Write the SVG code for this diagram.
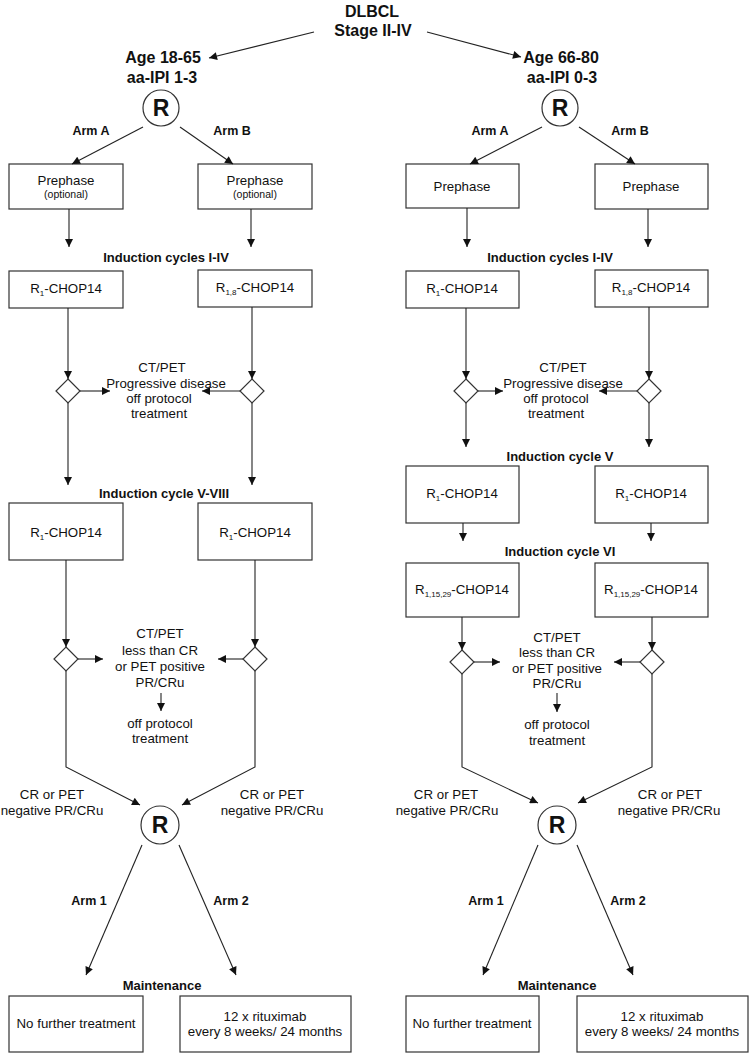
<svg xmlns="http://www.w3.org/2000/svg" width="749" height="1053" viewBox="0 0 749 1053">
<defs>
<marker id="ah" viewBox="0 0 10 10" refX="10" refY="5" markerWidth="9" markerHeight="8" markerUnits="userSpaceOnUse" orient="auto">
<path d="M0,0 L10,5 L0,10 z" fill="#111"/>
</marker>
</defs>
<style>
text{font-family:"Liberation Sans",Arial,sans-serif;fill:#111;text-anchor:middle}
.t{font-size:13.3px}
.s{font-size:10.5px}
.h{font-size:13px;font-weight:bold}
.a{font-size:12.5px;font-weight:bold}
.big{font-size:16px;font-weight:bold}
.rr{font-size:23px;font-weight:bold}
.sub{font-size:8px}
.n{fill:#fff;stroke:#333;stroke-width:1.2}
.c line,.c polyline{stroke:#222;stroke-width:1.1;fill:none}
.ar{marker-end:url(#ah)}
</style>
<rect width="749" height="1053" fill="#fff"/>

<g id="title"><text class="big" x="372" y="17">DLBCL</text><text class="big" x="373" y="36">Stage II-IV</text></g>
<g id="ageL"><text class="big" x="163" y="63">Age 18-65</text><text class="big" x="162" y="83">aa-IPI 1-3</text></g>
<g id="ageR"><text class="big" x="561" y="63">Age 66-80</text><text class="big" x="562" y="83">aa-IPI 0-3</text></g>

<g id="rL1"><circle class="n" cx="161" cy="108" r="18"/><text class="rr" x="161" y="116">R</text></g>
<g id="rR1"><circle class="n" cx="560" cy="108" r="18"/><text class="rr" x="560" y="116">R</text></g>

<g id="armlabels">
<text class="a" x="91" y="135">Arm A</text><text class="a" x="232" y="135">Arm B</text>
<text class="a" x="490" y="135">Arm A</text><text class="a" x="630" y="135">Arm B</text>
</g>

<g id="preLA"><rect class="n" x="9" y="164" width="114" height="45"/><text class="t" x="66" y="185">Prephase</text><text class="s" x="66" y="198">(optional)</text></g>
<g id="preLB"><rect class="n" x="198" y="164" width="114" height="45"/><text class="t" x="255" y="185">Prephase</text><text class="s" x="255" y="198">(optional)</text></g>
<g id="preRA"><rect class="n" x="406" y="164" width="113" height="44"/><text class="t" x="462" y="191">Prephase</text></g>
<g id="preRB"><rect class="n" x="595" y="164" width="113" height="45"/><text class="t" x="651" y="191">Prephase</text></g>

<g id="hdr1"><text class="h" x="166" y="262">Induction cycles I-IV</text><text class="h" x="550" y="262">Induction cycles I-IV</text></g>

<g id="iLA"><rect class="n" x="9" y="271" width="114" height="37"/><text class="t" x="66" y="293">R<tspan class="sub" dy="3">1</tspan><tspan dy="-3">-CHOP14</tspan></text></g>
<g id="iLB"><rect class="n" x="198" y="270" width="114" height="37"/><text class="t" x="255" y="292">R<tspan class="sub" dy="3">1,8</tspan><tspan dy="-3">-CHOP14</tspan></text></g>
<g id="iRA"><rect class="n" x="406" y="271" width="113" height="37"/><text class="t" x="462" y="293">R<tspan class="sub" dy="3">1</tspan><tspan dy="-3">-CHOP14</tspan></text></g>
<g id="iRB"><rect class="n" x="595" y="270" width="113" height="37"/><text class="t" x="651" y="292">R<tspan class="sub" dy="3">1,8</tspan><tspan dy="-3">-CHOP14</tspan></text></g>

<g id="dL1a"><polygon class="n" points="68,379 80,391 68,403 56,391"/></g>
<g id="dL1b"><polygon class="n" points="252,379 264,391 252,403 240,391"/></g>
<g id="dR1a"><polygon class="n" points="466,379 478,391 466,403 454,391"/></g>
<g id="dR1b"><polygon class="n" points="649,379 661,391 649,403 637,391"/></g>

<g id="pdL"><text class="t" x="162" y="372">CT/PET</text><text class="t" x="166" y="388">Progressive disease</text><text class="t" x="159" y="403">off protocol</text><text class="t" x="159" y="418">treatment</text></g>
<g id="pdR"><text class="t" x="563" y="372">CT/PET</text><text class="t" x="563" y="388">Progressive disease</text><text class="t" x="556" y="403">off protocol</text><text class="t" x="556" y="418">treatment</text></g>

<g id="hdr2"><text class="h" x="164" y="498">Induction cycle V-VIII</text><text class="h" x="560" y="461">Induction cycle V</text><text class="h" x="560" y="556">Induction cycle VI</text></g>

<g id="vLA"><rect class="n" x="9" y="503" width="114" height="57"/><text class="t" x="66" y="537">R<tspan class="sub" dy="3">1</tspan><tspan dy="-3">-CHOP14</tspan></text></g>
<g id="vLB"><rect class="n" x="198" y="503" width="114" height="57"/><text class="t" x="255" y="537">R<tspan class="sub" dy="3">1</tspan><tspan dy="-3">-CHOP14</tspan></text></g>
<g id="vRA"><rect class="n" x="406" y="466" width="113" height="57"/><text class="t" x="462" y="498">R<tspan class="sub" dy="3">1</tspan><tspan dy="-3">-CHOP14</tspan></text></g>
<g id="vRB"><rect class="n" x="595" y="466" width="113" height="57"/><text class="t" x="651" y="498">R<tspan class="sub" dy="3">1</tspan><tspan dy="-3">-CHOP14</tspan></text></g>
<g id="viRA"><rect class="n" x="406" y="563" width="113" height="54"/><text class="t" x="462" y="594">R<tspan class="sub" dy="3">1,15,29</tspan><tspan dy="-3">-CHOP14</tspan></text></g>
<g id="viRB"><rect class="n" x="595" y="563" width="113" height="54"/><text class="t" x="651" y="594">R<tspan class="sub" dy="3">1,15,29</tspan><tspan dy="-3">-CHOP14</tspan></text></g>

<g id="dL2a"><polygon class="n" points="66,647 78,659 66,671 54,659"/></g>
<g id="dL2b"><polygon class="n" points="255,647 267,659 255,671 243,659"/></g>
<g id="dR2a"><polygon class="n" points="462,650 474,662 462,674 450,662"/></g>
<g id="dR2b"><polygon class="n" points="652,650 664,662 652,674 640,662"/></g>

<g id="lcL"><text class="t" x="160" y="638">CT/PET</text><text class="t" x="160" y="655">less than CR</text><text class="t" x="160" y="671">or PET positive</text><text class="t" x="160" y="687">PR/CRu</text><text class="t" x="160" y="728">off protocol</text><text class="t" x="160" y="743">treatment</text></g>
<g id="lcR"><text class="t" x="557" y="642">CT/PET</text><text class="t" x="557" y="657">less than CR</text><text class="t" x="557" y="673">or PET positive</text><text class="t" x="557" y="688">PR/CRu</text><text class="t" x="557" y="729">off protocol</text><text class="t" x="557" y="745">treatment</text></g>

<g id="crL"><text class="t" x="52" y="799">CR or PET</text><text class="t" x="52" y="815">negative PR/CRu</text><text class="t" x="272" y="799">CR or PET</text><text class="t" x="272" y="815">negative PR/CRu</text></g>
<g id="crR"><text class="t" x="446" y="799">CR or PET</text><text class="t" x="447" y="815">negative PR/CRu</text><text class="t" x="670" y="799">CR or PET</text><text class="t" x="669" y="815">negative PR/CRu</text></g>

<g id="rL2"><circle class="n" cx="160" cy="825" r="19"/><text class="rr" x="160" y="833">R</text></g>
<g id="rR2"><circle class="n" cx="557" cy="825" r="19"/><text class="rr" x="557" y="833">R</text></g>

<g id="arm12"><text class="a" x="89" y="905">Arm 1</text><text class="a" x="231" y="905">Arm 2</text><text class="a" x="486" y="905">Arm 1</text><text class="a" x="628" y="905">Arm 2</text></g>
<g id="maint"><text class="h" x="162" y="990">Maintenance</text><text class="h" x="557" y="990">Maintenance</text></g>

<g id="mLA"><rect class="n" x="9" y="996" width="134" height="56"/><text class="t" x="76" y="1028">No further treatment</text></g>
<g id="mLB"><rect class="n" x="180" y="996" width="171" height="56"/><text class="t" x="265" y="1021">12 x rituximab</text><text class="t" x="265" y="1036">every 8 weeks/ 24 months</text></g>
<g id="mRA"><rect class="n" x="406" y="996" width="133" height="56"/><text class="t" x="472" y="1028">No further treatment</text></g>
<g id="mRB"><rect class="n" x="577" y="996" width="171" height="56"/><text class="t" x="662" y="1021">12 x rituximab</text><text class="t" x="662" y="1036">every 8 weeks/ 24 months</text></g>

<g id="connectors" class="c">
<line class="ar" x1="314" y1="32" x2="209" y2="58"/>
<line class="ar" x1="427" y1="32" x2="521" y2="57"/>
<line class="ar" x1="143" y1="127" x2="72" y2="164"/>
<line class="ar" x1="180" y1="127" x2="233" y2="164"/>
<line class="ar" x1="542" y1="127" x2="470" y2="164"/>
<line class="ar" x1="579" y1="127" x2="635" y2="164"/>
<line class="ar" x1="69" y1="209" x2="69" y2="247"/>
<line class="ar" x1="251" y1="209" x2="251" y2="247"/>
<line class="ar" x1="467" y1="208" x2="467" y2="247"/>
<line class="ar" x1="648" y1="209" x2="648" y2="247"/>
<line class="ar" x1="68" y1="308" x2="68" y2="379"/>
<line class="ar" x1="252" y1="307" x2="252" y2="379"/>
<line class="ar" x1="466" y1="308" x2="466" y2="379"/>
<line class="ar" x1="649" y1="307" x2="649" y2="379"/>
<line class="ar" x1="80" y1="391" x2="110" y2="391"/>
<line class="ar" x1="240" y1="391" x2="202" y2="391"/>
<line class="ar" x1="478" y1="391" x2="503" y2="391"/>
<line class="ar" x1="637" y1="391" x2="599" y2="391"/>
<line class="ar" x1="68" y1="403" x2="68" y2="485"/>
<line class="ar" x1="252" y1="403" x2="252" y2="485"/>
<line class="ar" x1="466" y1="403" x2="466" y2="447"/>
<line class="ar" x1="649" y1="403" x2="649" y2="447"/>
<line class="ar" x1="463" y1="523" x2="463" y2="541"/>
<line class="ar" x1="651" y1="523" x2="651" y2="541"/>
<line class="ar" x1="66" y1="560" x2="66" y2="647"/>
<line class="ar" x1="255" y1="560" x2="255" y2="647"/>
<line class="ar" x1="462" y1="617" x2="462" y2="650"/>
<line class="ar" x1="652" y1="617" x2="652" y2="650"/>
<line class="ar" x1="78" y1="659" x2="103" y2="659"/>
<line class="ar" x1="243" y1="659" x2="218" y2="659"/>
<line class="ar" x1="474" y1="662" x2="500" y2="662"/>
<line class="ar" x1="640" y1="662" x2="614" y2="662"/>
<line class="ar" x1="161" y1="693" x2="161" y2="711"/>
<line class="ar" x1="557" y1="693" x2="557" y2="712"/>
<polyline class="ar" points="66,671 66,767 140,805"/>
<polyline class="ar" points="255,671 255,767 182,805"/>
<polyline class="ar" points="462,674 462,767 538,803"/>
<polyline class="ar" points="652,674 652,767 578,803"/>
<line class="ar" x1="142" y1="845" x2="86" y2="975"/>
<line class="ar" x1="179" y1="845" x2="236" y2="975"/>
<line class="ar" x1="538" y1="845" x2="483" y2="975"/>
<line class="ar" x1="577" y1="845" x2="633" y2="975"/>
</g>
</svg>
